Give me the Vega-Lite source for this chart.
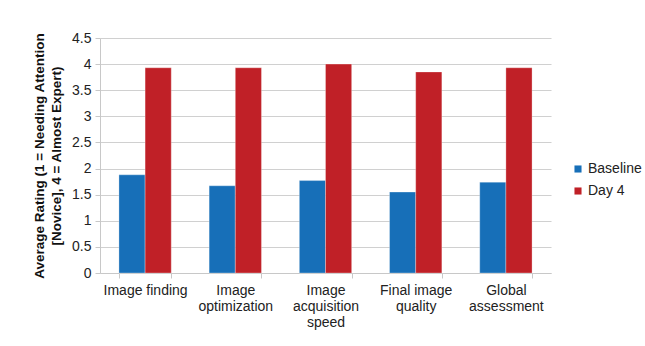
{
  "$schema": "https://vega.github.io/schema/vega-lite/v6.json",
  "autosize": {"type": "none"},
  "width": 451,
  "height": 235,
  "padding": {"left": 100, "top": 38, "right": 94, "bottom": 73},
  "background": "#ffffff",
  "config": {
    "font": "Liberation Sans",
    "view": {"stroke": null},
    "axis": {"labelFont": "Liberation Sans", "titleFont": "Liberation Sans"}
  },
  "data": {
    "values": [
      {"skill": "Image finding", "time": "Baseline", "rating": 1.88},
      {"skill": "Image finding", "time": "Day 4", "rating": 3.93},
      {"skill": "Image optimization", "time": "Baseline", "rating": 1.67},
      {"skill": "Image optimization", "time": "Day 4", "rating": 3.93},
      {"skill": "Image acquisition speed", "time": "Baseline", "rating": 1.77},
      {"skill": "Image acquisition speed", "time": "Day 4", "rating": 4.0},
      {"skill": "Final image quality", "time": "Baseline", "rating": 1.55},
      {"skill": "Final image quality", "time": "Day 4", "rating": 3.85},
      {"skill": "Global assessment", "time": "Baseline", "rating": 1.74},
      {"skill": "Global assessment", "time": "Day 4", "rating": 3.93}
    ]
  },
  "mark": {"type": "bar", "stroke": "#ffffff", "strokeWidth": 0.5, "strokeOpacity": 0.6},
  "encoding": {
    "x": {
      "field": "skill",
      "type": "nominal",
      "sort": null,
      "scale": {"paddingInner": 0.42, "paddingOuter": 0.21},
      "axis": {
        "title": null,
        "labelAngle": 0,
        "labelFontSize": 14,
        "labelColor": "#222222",
        "labelPadding": 5,
        "labelLineHeight": 16,
        "tickBand": "extent",
        "tickSize": 5,
        "tickColor": "#c8c8c8",
        "domainColor": "#c8c8c8",
        "labelExpr": "datum.label == 'Image optimization' ? ['Image', 'optimization'] : datum.label == 'Image acquisition speed' ? ['Image', 'acquisition', 'speed'] : datum.label == 'Final image quality' ? ['Final image', 'quality'] : datum.label == 'Global assessment' ? ['Global', 'assessment'] : datum.label"
      }
    },
    "xOffset": {"field": "time", "type": "nominal"},
    "y": {
      "field": "rating",
      "type": "quantitative",
      "scale": {"domain": [0, 4.5], "nice": false},
      "axis": {
        "values": [0, 0.5, 1, 1.5, 2, 2.5, 3, 3.5, 4, 4.5],
        "format": "~g",
        "title": ["Average Rating (1 = Needing Attention", "[Novice], 4 = Almost Expert)"],
        "titleFontSize": 13.5,
        "titleFontWeight": "bold",
        "titleColor": "#111111",
        "titleLineHeight": 17,
        "titlePadding": 8,
        "labelFontSize": 14,
        "labelColor": "#222222",
        "labelPadding": 4,
        "tickSize": 5,
        "tickColor": "#c8c8c8",
        "domainColor": "#c8c8c8",
        "gridColor": "#d0d0d0",
        "gridWidth": 1.2
      }
    },
    "color": {
      "field": "time",
      "type": "nominal",
      "scale": {"domain": ["Baseline", "Day 4"], "range": ["#176fb8", "#c02027"]},
      "legend": {
        "title": null,
        "orient": "none",
        "legendX": 471,
        "legendY": 124,
        "symbolType": "square",
        "symbolSize": 50,
        "symbolStrokeWidth": 0,
        "labelFontSize": 14,
        "labelColor": "#222222",
        "labelOffset": 3,
        "rowPadding": 8
      }
    }
  }
}
